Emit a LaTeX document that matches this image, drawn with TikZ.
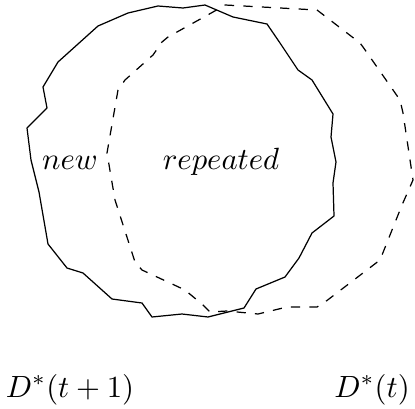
\documentclass[tikz,border=0pt]{standalone}
\usepackage{amsmath}

\begin{document}
\begin{tikzpicture}[
  x=0.01145cm, y=-0.01145cm,
  lbl/.style={anchor=base, inner sep=0pt},
  setnow/.style={dashed, line join=round},
  setnext/.style={line join=round},
]
\useasboundingbox (0,0) rectangle (415,408);

% D*(t+1), solid outline
\draw[setnext] (158,6) -- (183,8) -- (205,5) -- (233,17) -- (267,24) -- (280,43)
  -- (298,70) -- (312,80) -- (333,114) -- (331,137) -- (336,162) -- (333,183)
  -- (334,216) -- (312,233) -- (299,258) -- (285,277) -- (256,289) -- (244,308)
  -- (208,317) -- (182,314) -- (152,317) -- (142,303) -- (112,299) -- (83,273)
  -- (67,268) -- (48,244) -- (39,192) -- (31,160) -- (27,128) -- (47,108)
  -- (43,87) -- (58,62) -- (98,26) -- (128,13) -- cycle;

% D*(t), dashed outline
\draw[setnow] (225,5) -- (317,10) -- (360,43) -- (363,47) -- (400,100) -- (403,113)
  -- (413,180) -- (402,205) -- (380,260) -- (325,302) -- (317,307) -- (287,307)
  -- (258,314) -- (227,311) -- (210,312) -- (203,305) -- (185,290) -- (142,270)
  -- (135,262) -- (115,200) -- (107,153) -- (118,90) -- (125,80) -- (153,55)
  -- (162,42) -- (168,37) -- (213,12) -- cycle;

\node[lbl] (new) at (70,169) {$new$};
\node[lbl] (repeated) at (221,169) {$repeated$};
\node[lbl] (Dnext) at (70,397) {$D^*(t+1)$};
\node[lbl] (Dnow) at (372,397) {$D^*(t)$};
\end{tikzpicture}
\end{document}
